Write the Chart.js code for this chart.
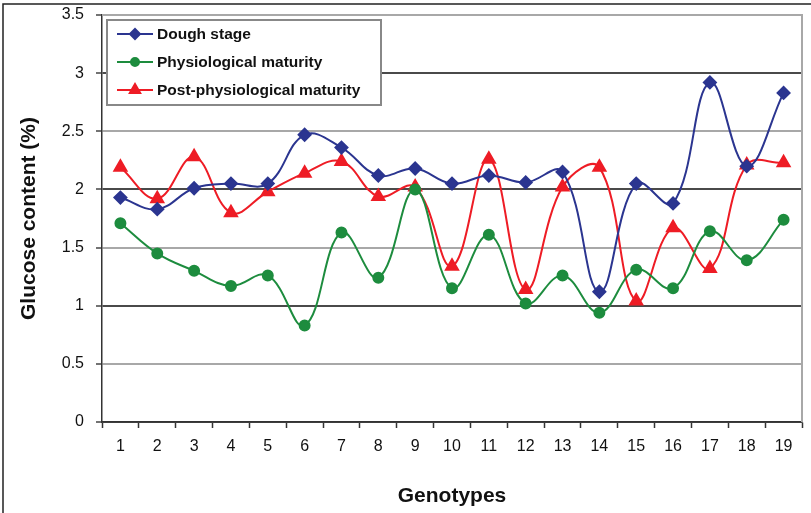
<!DOCTYPE html>
<html>
<head>
<meta charset="utf-8">
<script src="https://cdn.jsdelivr.net/npm/chart.js@4.4.0/dist/chart.umd.min.js"></script>
<style>
  html, body { margin: 0; padding: 0; background: #fff; }
  #wrap { width: 811px; height: 513px; position: relative; }
</style>
</head>
<body>
<div id="wrap"><canvas id="glucoseChart"></canvas></div>
<script>
// genotypes 1..19
const genotypes = ['1','2','3','4','5','6','7','8','9','10','11','12','13','14','15','16','17','18','19'];

// glucose content (%)
const doughStage = [1.93, 1.83, 2.01, 2.05, 2.05, 2.47, 2.36, 2.12, 2.18, 2.05, 2.12, 2.06, 2.15, 1.12, 2.05, 1.88, 2.92, 2.20, 2.83];
const physMaturity = [1.71, 1.45, 1.30, 1.17, 1.26, 0.83, 1.63, 1.24, 2.00, 1.15, 1.61, 1.02, 1.26, 0.94, 1.31, 1.15, 1.64, 1.39, 1.74];
const postPhysMaturity = [2.19, 1.92, 2.28, 1.80, 1.98, 2.14, 2.24, 1.94, 2.02, 1.34, 2.26, 1.14, 2.02, 2.19, 1.04, 1.67, 1.32, 2.21, 2.23];

const seriesNames = ['Dough stage', 'Physiological maturity', 'Post-physiological maturity'];

// frame + plot border
const framePlugin = {
    id: 'frame',
    beforeDatasetsDraw(chart) {
        const ctx = chart.ctx;
        const a = chart.chartArea;
        ctx.save();
        ctx.strokeStyle = '#a8a8a8';
        ctx.lineWidth = 2;
        ctx.beginPath();
        ctx.moveTo(a.left, a.top);
        ctx.lineTo(a.right, a.top);
        ctx.lineTo(a.right, a.bottom);
        ctx.stroke();
        ctx.restore();
    },
    afterDraw(chart) {
        const ctx = chart.ctx;
        ctx.save();
        ctx.strokeStyle = '#222';
        ctx.lineWidth = 1.5;
        ctx.beginPath();
        ctx.moveTo(3, chart.height);
        ctx.lineTo(3, 4);
        ctx.lineTo(chart.width, 4);
        ctx.stroke();
        ctx.restore();
    }
};

// legend box inside the plot, top left
const boxLegend = {
    id: 'boxLegend',
    afterDraw(chart) {
        const ctx = chart.ctx;
        const x = 107, y = 20, w = 274, h = 85;
        ctx.save();
        ctx.fillStyle = '#fff';
        ctx.fillRect(x, y, w, h);
        ctx.strokeStyle = '#888';
        ctx.lineWidth = 2;
        ctx.strokeRect(x, y, w, h);
        ctx.font = 'bold 15.5px "Liberation Sans", Arial, sans-serif';
        ctx.textBaseline = 'middle';
        chart.data.datasets.forEach((ds, i) => {
            const cy = y + 14 + i * 28;
            ctx.strokeStyle = ds.borderColor;
            ctx.lineWidth = 2;
            ctx.beginPath();
            ctx.moveTo(x + 10, cy);
            ctx.lineTo(x + 46, cy);
            ctx.stroke();
            ctx.fillStyle = ds.borderColor;
            Chart.helpers.drawPoint(ctx, {
                pointStyle: ds.pointStyle,
                radius: ds.pointRadius - 1,
                rotation: 0,
                borderWidth: 1
            }, x + 28, cy);
            ctx.fill();
            ctx.fillStyle = '#111';
            ctx.fillText(ds.label, x + 50, cy + 1);
        });
        ctx.restore();
    }
};

const ctxEl = document.getElementById('glucoseChart');
new Chart(ctxEl, {
    type: 'line',
    data: {
        labels: genotypes,
        datasets: [
            {
                label: seriesNames[0],
                data: doughStage,
                borderColor: '#2b3590',
                backgroundColor: '#2b3590',
                pointStyle: 'rectRot',
                pointRadius: 6,
                borderWidth: 2,
                tension: 0.4
            },
            {
                label: seriesNames[1],
                data: physMaturity,
                borderColor: '#1d8c3e',
                backgroundColor: '#1d8c3e',
                pointStyle: 'circle',
                pointRadius: 5,
                borderWidth: 2,
                tension: 0.4
            },
            {
                label: seriesNames[2],
                data: postPhysMaturity,
                borderColor: '#ee1c25',
                backgroundColor: '#ee1c25',
                pointStyle: 'triangle',
                pointRadius: 7,
                borderWidth: 2,
                tension: 0.4
            }
        ]
    },
    options: {
        responsive: true,
        maintainAspectRatio: false,
        animation: false,
        layout: { padding: { left: 0, top: 15, right: 3, bottom: 0 } },
        plugins: {
            legend: { display: false },
            tooltip: { enabled: false }
        },
        scales: {
            x: {
                offset: true,
                afterFit(scale) {
                    scale.height = 91;
                    scale.paddingLeft = 0;
                    scale.paddingRight = 0;
                },
                grid: {
                    offset: true,
                    drawOnChartArea: false,
                    tickLength: 6,
                    tickColor: '#333',
                    tickWidth: 1.5
                },
                border: { color: '#333', width: 1.5 },
                ticks: {
                    color: '#111',
                    padding: 9,
                    font: { family: '"Liberation Sans", Arial, sans-serif', size: 16 },
                    maxRotation: 0,
                    autoSkip: false
                },
                title: {
                    display: true,
                    text: 'Genotypes',
                    color: '#111',
                    padding: { top: 12 },
                    font: { family: '"Liberation Sans", Arial, sans-serif', size: 21, weight: 'bold' }
                }
            },
            y: {
                min: 0,
                max: 3.5,
                afterFit(scale) {
                    scale.width = 102;
                    scale.paddingTop = 0;
                    scale.paddingBottom = 0;
                },
                grid: {
                    color: (c) => (c.tick && c.tick.value % 1 === 0) ? '#4a4a4a' : '#a8a8a8',
                    lineWidth: 2,
                    tickLength: 6,
                    tickColor: '#444',
                    tickWidth: 1.5
                },
                border: { color: '#333', width: 1.5 },
                ticks: {
                    stepSize: 0.5,
                    color: '#111',
                    padding: 12,
                    font: { family: '"Liberation Sans", Arial, sans-serif', size: 16 },
                    callback: (v) => String(v)
                },
                title: {
                    display: true,
                    text: 'Glucose content (%)',
                    color: '#111',
                    padding: { top: 17, bottom: 0 },
                    font: { family: '"Liberation Sans", Arial, sans-serif', size: 21, weight: 'bold' }
                }
            }
        }
    },
    plugins: [framePlugin, boxLegend]
});
</script>
</body>
</html>
